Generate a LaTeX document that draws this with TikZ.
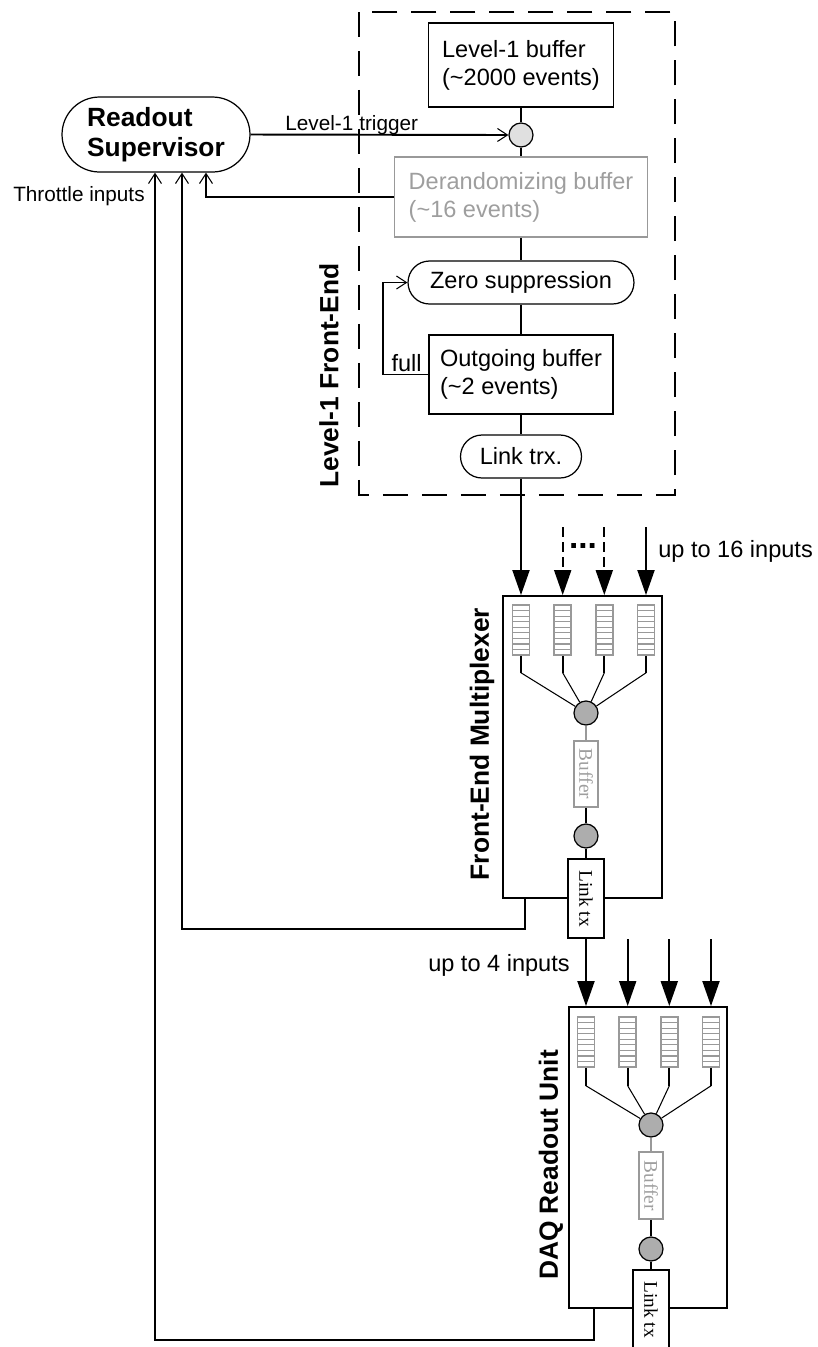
\documentclass[tikz,border=0pt]{standalone}
\usepackage{fontspec}
\setmainfont{Liberation Sans}
\newfontfamily\timesfont{Liberation Serif}
\usetikzlibrary{arrows.meta,positioning,calc}
\definecolor{greytxt}{gray}{0.62}
\definecolor{greyline}{gray}{0.6}
\definecolor{dotfill}{gray}{0.68}
\definecolor{gatefill}{gray}{0.88}

\begin{document}
\begin{tikzpicture}[
  x=0.02cm, y=-0.02cm,
  font=\fontsize{13.4}{16}\selectfont,
  blk/.style={draw, line width=1.1pt, align=left, inner sep=0pt},
  gblk/.style={blk, draw=greyline, text=greytxt},
  pill/.style={draw, line width=0.7pt, rounded corners=0.43cm,
               minimum height=0.86cm, inner sep=0pt},
  dot/.style={circle, draw, line width=0.7pt, minimum size=0.48cm,
              inner sep=0pt, fill=dotfill},
  fifo/.style={draw=greyline, line width=0.9pt, minimum width=0.34cm,
               minimum height=1cm, inner sep=0pt,
               path picture={
                 \foreach \k in {1,...,8}
                   \draw[greyline, line width=0.7pt]
                     ($(path picture bounding box.north west)!\k/9!(path picture bounding box.south west)$)
                     -- ($(path picture bounding box.north east)!\k/9!(path picture bounding box.south east)$);
               }},
  sbox/.style={draw, line width=1.1pt, inner sep=0pt, fill=white,
               font=\timesfont\fontsize{11}{13}\selectfont},
  lbl/.style={font=\fontsize{15}{18}\selectfont\bfseries, inner sep=0pt, rotate=90},
  note/.style={font=\fontsize{11.8}{14}\selectfont, inner sep=0pt},
  wire/.style={line width=1.1pt},
  fine/.style={line width=0.6pt},
  thr/.style={line width=1.1pt,
              -{Straight Barb[length=0.2cm, width=0.26cm, line width=0.6pt]}},
  feed/.style={line width=1.1pt, -{Triangle[length=0.5cm, width=0.34cm]}}
]
\useasboundingbox (0,0) rectangle (818,1347);

% Level-1 front-end (dashed frame)
\draw[line width=1.1pt, dash pattern=on 0.5cm off 0.28cm] (359,12) rectangle (675,495);
\node[lbl] (felbl) at (329,375.5) {Level-1 Front-End};

\node[blk, minimum width=3.7cm, minimum height=1.68cm] (l1buf) at (521,65)
  {Level-1 buffer\\(\textasciitilde2000 events)};
\node[dot, fill=gatefill] (trig) at (521,135) {};
\node[gblk, minimum width=5.06cm, minimum height=1.6cm] (derand) at (521,197)
  {Derandomizing buffer\\(\textasciitilde16 events)};
\node[pill, minimum width=4.52cm] (zerosup) at (521,282.5) {Zero suppression};
\node[blk, minimum width=3.68cm, minimum height=1.58cm] (outbuf) at (521,374.5)
  {Outgoing buffer\\(\textasciitilde2 events)};
\node[pill, minimum width=2.42cm] (linktrx) at (521,456.5) {Link trx.};

\draw[wire] (l1buf) -- (trig);
\draw[wire] (trig) -- (derand);
\draw[wire] (derand) -- (zerosup);
\draw[wire] (zerosup) -- (outbuf);
\draw[wire] (outbuf) -- (linktrx);

% full feedback
\draw[thr] (outbuf.west) -- ++(-45,0) |- (zerosup.west);
\node[anchor=base east, inner sep=0pt] (fulllbl) at ([xshift=-0.12cm, yshift=0.06cm]outbuf.west) {full};

% Readout supervisor
\node[draw, line width=0.7pt, rounded corners=0.75cm, minimum width=3.76cm,
      minimum height=1.5cm, align=left, inner sep=0pt,
      font=\fontsize{15}{17}\selectfont\bfseries] (sup) at (156,134.5)
  {Readout\\Supervisor};
\draw[thr] (sup.east) -- (trig.west);
\node[note, anchor=base west] (trglbl) at (285,130) {Level-1\hspace{0.12cm}trigger};
\node[note, anchor=east] (thrlbl) at (145,196) {Throttle inputs};

% Front-end multiplexer
\node[draw, line width=1.1pt, minimum width=3.18cm, minimum height=6.04cm] (mux) at (582.5,747) {};
\node[lbl] (muxlbl) at (482,744) {Front-End Multiplexer};
\foreach \i/\x in {1/521,2/562.7,3/604.3,4/646}
  \node[fifo] (qA\i) at (\x,630) {};
\node[dot] (mrgA) at (586,713) {};
\node[gblk, minimum width=0.48cm, minimum height=1.32cm,
      font=\timesfont\fontsize{11}{13}\selectfont] (bufA) at (586,774)
  {\rotatebox{-90}{Buffer}};
\node[dot] (outA) at (586,836) {};
\node[sbox, minimum width=0.72cm, minimum height=1.58cm] (ltxA) at (586,898.5)
  {\rotatebox{-90}{Link tx}};

\foreach \i in {1,...,4} {
  \draw[wire] (qA\i.south) -- ++(0,17) coordinate (qAe\i);
  \draw[fine] (qAe\i) -- (mrgA);
}
\draw[wire, greyline] (mrgA) -- (bufA);
\draw[wire] (bufA) -- (outA);
\draw[wire] (outA) -- (ltxA);

% inputs to multiplexer
\coordinate (top16) at (0,527);
\draw[feed] (linktrx) -- (qA1 |- mux.north);
\draw[feed, dash pattern=on 0.2cm off 0.1cm] (qA2 |- top16) -- (qA2 |- mux.north);
\draw[feed, dash pattern=on 0.2cm off 0.1cm] (qA3 |- top16) -- (qA3 |- mux.north);
\draw[feed] (qA4 |- top16) -- (qA4 |- mux.north);
\node[font=\fontsize{19}{20}\selectfont\bfseries, inner sep=0pt] (dots) at (583,546) {...};
\node[anchor=west, inner sep=0pt] (in16) at (658,551) {up to 16 inputs};

% DAQ readout unit
\node[draw, line width=1.1pt, minimum width=3.16cm, minimum height=6.02cm] (daq) at (648,1157.5) {};
\node[lbl] (daqlbl) at (551,1165) {DAQ Readout Unit};
\foreach \i/\x in {1/586,2/627.7,3/669.3,4/711}
  \node[fifo] (qB\i) at (\x,1042) {};
\node[dot] (mrgB) at (651,1125) {};
\node[gblk, minimum width=0.48cm, minimum height=1.34cm,
      font=\timesfont\fontsize{11}{13}\selectfont] (bufB) at (651,1185.5)
  {\rotatebox{-90}{Buffer}};
\node[dot] (outB) at (651,1249) {};
\node[sbox, minimum width=0.72cm, minimum height=1.58cm] (ltxB) at (651,1309.5)
  {\rotatebox{-90}{Link tx}};

\foreach \i in {1,...,4} {
  \draw[wire] (qB\i.south) -- ++(0,18) coordinate (qBe\i);
  \draw[fine] (qBe\i) -- (mrgB);
}
\draw[wire, greyline] (mrgB) -- (bufB);
\draw[wire] (bufB) -- (outB);
\draw[wire] (outB) -- (ltxB);

% inputs to DAQ unit
\coordinate (top4) at (0,939);
\draw[feed] (ltxA) -- (qB1 |- daq.north);
\foreach \i in {2,3,4}
  \draw[feed] (qB\i |- top4) -- (qB\i |- daq.north);
\node[anchor=east, inner sep=0pt] (in4) at (570,965) {up to 4 inputs};

% Throttle paths
\draw[thr] (derand.west) -| ([xshift=1cm]sup.south);
\draw[thr] ([xshift=-1.15cm]mux.south) -- ++(0,30) -| ([xshift=0.52cm]sup.south);
\draw[thr] ([xshift=-1.08cm]daq.south) -- ++(0,31) -| ([xshift=-0.02cm]sup.south);
\end{tikzpicture}
\end{document}
